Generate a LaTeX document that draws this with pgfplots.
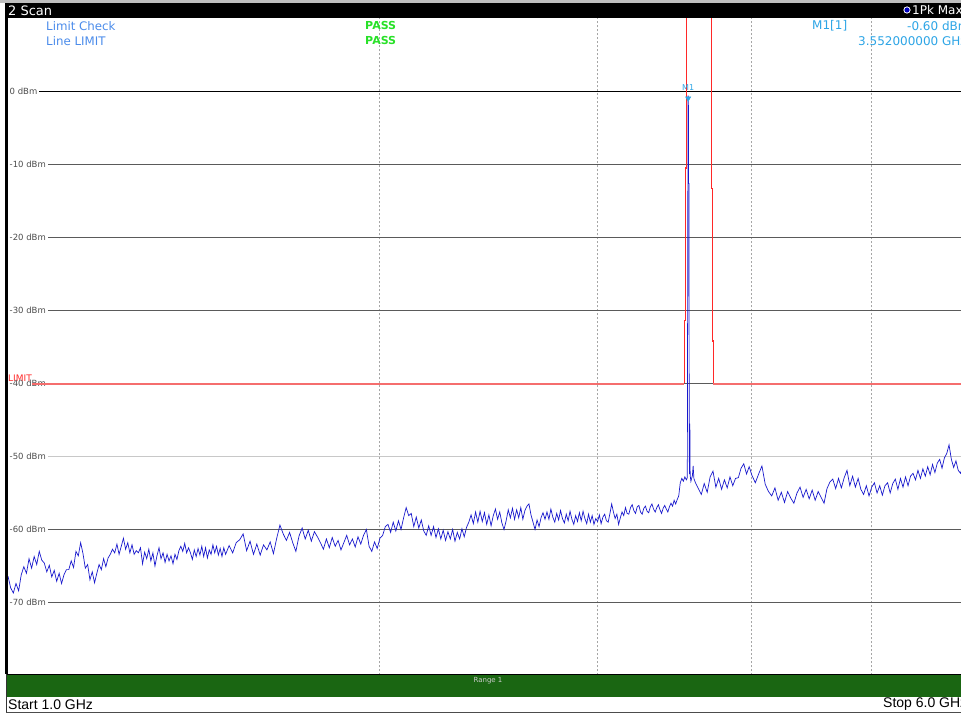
\documentclass[border=0pt]{standalone}
\usepackage{fontspec}
\setmainfont{DejaVu Sans}
\newfontfamily\narrowfont{Liberation Sans}
\usepackage{pgfplots}
\pgfplotsset{compat=1.18}
\definecolor{trace}{RGB}{25,25,205}
\definecolor{limred}{RGB}{255,40,40}
\definecolor{limsalmon}{RGB}{245,110,110}
\definecolor{scangreen}{RGB}{26,102,18}
\definecolor{infoblue}{RGB}{75,140,235}
\definecolor{mkblue}{RGB}{45,165,230}
\definecolor{passgreen}{RGB}{40,225,40}
\definecolor{gridgray}{RGB}{90,90,90}
\definecolor{gridlight}{RGB}{200,200,200}

\begin{document}
\begin{tikzpicture}
% window frame and title bar
\begin{scope}[x=1pt,y=1pt]
\fill[white] (0,0) rectangle (961,715);
\fill[black!25] (0,712) rectangle (961,715);
\fill[black] (5,697) rectangle (961,712);
\node[anchor=west, text=white, inner sep=0, font=\fontsize{13}{14}\selectfont] at (8,704.5) {2 Scan};
\fill[white] (907,705) circle (3.6);
\fill[blue!75!black] (907,705) circle (2.6);
\node[anchor=west, text=white, inner sep=0, font=\fontsize{12}{13}\selectfont] at (912,704.5) {1Pk Max};
\end{scope}

\begin{axis}[
    at={(8pt,39.5pt)}, anchor=south west,
    width=961.56pt, height=657pt, scale only axis,
    xmode=log, xmin=1, xmax=6,
    ymin=-80, ymax=10,
    axis line style={draw=none},
    major tick length=0pt,
    xtick={2,3,4,5}, xticklabels={},
    ytick={-70,-60,-50,-40,-30,-20,-10,0},
    yticklabels={-70 dBm,-60 dBm,-50 dBm,-40 dBm,-30 dBm,-20 dBm,-10 dBm,0 dBm},
    yticklabel style={anchor=west, font=\fontsize{8.5}{9}\selectfont, text=black!70,
        inner xsep=1.5pt, inner ysep=0.5pt},
    xmajorgrids,
    major x grid style={draw=black!35, dash pattern=on 2pt off 2pt, line width=1pt},
    clip=true,
]
% horizontal grid lines, starting after the level labels
\draw[draw=black, line width=1pt] (axis cs:1.06,0) -- (axis cs:6,0);
\draw[draw=gridgray, line width=1pt] (axis cs:1.078,-10) -- (axis cs:6,-10);
\draw[draw=gridgray, line width=1pt] (axis cs:1.078,-20) -- (axis cs:6,-20);
\draw[draw=gridgray, line width=1pt] (axis cs:1.078,-30) -- (axis cs:6,-30);
\draw[draw=gridgray, line width=1pt] (axis cs:1.078,-40) -- (axis cs:6,-40);
\draw[draw=gridlight, line width=1pt] (axis cs:1.078,-50) -- (axis cs:6,-50);
\draw[draw=gridgray, line width=1pt] (axis cs:1.078,-60) -- (axis cs:6,-60);
\draw[draw=gridgray, line width=1pt] (axis cs:1.078,-70) -- (axis cs:6,-70);

% limit line
\addplot[draw=limsalmon, line width=2pt, yshift=-0.5pt] coordinates {(1.046,-40) (3.5274,-40)};
\addplot[draw=limsalmon, line width=2pt, yshift=-0.5pt] coordinates {(3.7233,-40) (6,-40)};
\addplot[draw=limred, line width=1.4pt] coordinates {(3.5274,-40) (3.5274,-31.4) (3.5340,-31.4) (3.5340,-10.5) (3.5406,-10.5) (3.5406,10)};
\addplot[draw=limred, line width=1.4pt] coordinates {(3.7095,10) (3.7095,-13.3) (3.7164,-13.3) (3.7164,-34.2) (3.7233,-34.2) (3.7233,-40)};

% trace 1Pk Max
\addplot[draw=trace, line width=0.7pt] coordinates {
(1.000,-66.4) (1.005,-68.0) (1.010,-68.7) (1.015,-67.4) (1.020,-68.4) (1.025,-66.2) (1.030,-65.1) (1.035,-66.0)
(1.040,-64.0) (1.045,-65.3) (1.050,-63.7) (1.055,-64.8) (1.060,-63.0) (1.065,-64.2) (1.070,-64.6) (1.075,-65.8)
(1.080,-64.9) (1.085,-66.5) (1.090,-65.6) (1.095,-67.1) (1.100,-66.0) (1.105,-67.4) (1.110,-66.2) (1.115,-65.5)
(1.120,-65.5) (1.125,-64.3) (1.130,-65.2) (1.135,-63.0) (1.140,-63.6) (1.145,-61.8) (1.150,-63.3) (1.155,-65.3)
(1.160,-64.8) (1.165,-66.9) (1.170,-65.8) (1.175,-67.3) (1.180,-66.0) (1.185,-64.8) (1.190,-65.5) (1.195,-64.0)
(1.200,-65.1) (1.205,-63.9) (1.210,-63.4) (1.215,-62.7) (1.220,-63.2) (1.225,-62.0) (1.230,-63.4) (1.235,-62.3)
(1.240,-61.2) (1.245,-62.7) (1.250,-61.8) (1.255,-63.2) (1.260,-62.1) (1.265,-63.4) (1.270,-62.9) (1.275,-63.2)
(1.280,-62.5) (1.285,-64.7) (1.290,-63.1) (1.295,-64.0) (1.300,-62.7) (1.305,-64.3) (1.310,-63.2) (1.315,-65.0)
(1.320,-63.6) (1.325,-62.5) (1.330,-64.0) (1.335,-63.2) (1.340,-64.5) (1.345,-63.4) (1.350,-64.3) (1.355,-63.6)
(1.360,-64.7) (1.365,-63.4) (1.370,-64.1) (1.375,-62.9) (1.380,-62.3) (1.385,-63.0) (1.390,-61.9) (1.395,-63.2)
(1.400,-62.5) (1.405,-63.2) (1.410,-64.1) (1.415,-62.8) (1.420,-63.7) (1.425,-62.6) (1.430,-63.5) (1.435,-62.3)
(1.440,-63.7) (1.445,-62.5) (1.450,-63.9) (1.455,-62.8) (1.460,-63.4) (1.465,-62.1) (1.470,-63.2) (1.475,-62.3)
(1.480,-63.5) (1.485,-62.6) (1.490,-63.7) (1.495,-62.5)
(1.50,-63.4) (1.51,-62.2) (1.52,-63.2) (1.53,-61.8) (1.54,-61.4) (1.55,-60.6) (1.56,-62.9) (1.57,-61.6)
(1.58,-63.4) (1.59,-62.0) (1.60,-63.5) (1.61,-62.1) (1.62,-62.8) (1.63,-61.7) (1.64,-63.3) (1.65,-61.2)
(1.66,-59.4) (1.67,-60.6) (1.68,-61.5) (1.69,-60.4) (1.70,-61.8) (1.71,-63.0) (1.72,-60.9) (1.73,-59.8)
(1.74,-61.3) (1.75,-60.1) (1.76,-61.6) (1.77,-60.3) (1.78,-61.0) (1.79,-61.8) (1.80,-62.7) (1.81,-61.3)
(1.82,-62.5) (1.83,-61.1) (1.84,-62.3) (1.85,-61.5) (1.86,-62.8) (1.87,-61.8) (1.88,-60.8) (1.89,-62.1)
(1.90,-61.3) (1.91,-62.4) (1.92,-61.0) (1.93,-62.0) (1.94,-60.8) (1.95,-60.0) (1.96,-62.3) (1.97,-63.0)
(1.98,-61.7) (1.99,-62.6)
(2.00,-61.2) (2.01,-60.8) (2.02,-59.6) (2.03,-59.3) (2.04,-60.4) (2.05,-59.0) (2.06,-60.2) (2.07,-58.8)
(2.08,-60.0) (2.09,-58.4) (2.10,-57.0) (2.11,-58.1) (2.12,-57.8) (2.13,-59.6) (2.14,-58.3) (2.15,-59.8)
(2.16,-58.7) (2.17,-60.2) (2.18,-60.8) (2.19,-59.5) (2.20,-60.8) (2.21,-59.6) (2.22,-61.1) (2.23,-59.9)
(2.24,-61.3) (2.25,-60.1) (2.26,-61.5) (2.27,-60.3) (2.28,-61.3) (2.29,-60.0) (2.30,-61.6) (2.31,-60.4)
(2.32,-61.3) (2.33,-59.9) (2.34,-61.0) (2.35,-59.7) (2.36,-59.0) (2.37,-58.0) (2.38,-59.2) (2.39,-57.6)
(2.40,-59.0) (2.41,-57.5) (2.42,-58.9) (2.43,-57.7) (2.44,-59.3) (2.45,-58.0) (2.46,-59.5) (2.47,-58.1)
(2.48,-57.2) (2.49,-58.6) (2.50,-57.6) (2.51,-59.1) (2.52,-60.0) (2.53,-58.8) (2.54,-57.3) (2.55,-58.4)
(2.56,-57.1) (2.57,-58.6) (2.58,-57.3) (2.59,-58.4) (2.60,-57.0) (2.61,-58.6) (2.62,-57.4) (2.63,-56.8)
(2.64,-56.5) (2.65,-58.0) (2.66,-59.0) (2.67,-60.0) (2.68,-58.7) (2.69,-59.6) (2.70,-58.4) (2.71,-57.7)
(2.72,-58.6) (2.73,-57.6) (2.74,-58.6) (2.75,-57.2) (2.76,-58.3) (2.77,-59.0) (2.78,-57.8) (2.79,-58.7)
(2.80,-57.4) (2.81,-58.5) (2.82,-59.1) (2.83,-57.9) (2.84,-58.8) (2.85,-57.5) (2.86,-58.6) (2.87,-59.3)
(2.88,-58.1) (2.89,-58.9) (2.90,-57.7) (2.91,-58.8) (2.92,-57.5) (2.93,-58.5) (2.94,-59.2) (2.95,-57.9)
(2.96,-59.0) (2.97,-58.1) (2.98,-59.3) (2.99,-58.5)
(3.00,-58.9) (3.01,-58.0) (3.02,-59.2) (3.03,-58.3) (3.04,-57.9) (3.05,-58.8) (3.06,-59.0) (3.07,-57.8)
(3.08,-56.5) (3.09,-57.6) (3.10,-58.5) (3.11,-57.9) (3.12,-59.3) (3.13,-58.4) (3.14,-57.6) (3.15,-58.1)
(3.16,-57.0) (3.17,-57.8) (3.18,-57.9) (3.19,-57.0) (3.20,-56.6) (3.21,-57.4) (3.22,-57.8) (3.23,-56.9)
(3.24,-56.7) (3.25,-57.6) (3.26,-57.9) (3.27,-57.1) (3.28,-56.8) (3.29,-57.5) (3.30,-57.7) (3.31,-56.9)
(3.32,-56.5) (3.33,-57.2) (3.34,-57.6) (3.35,-57.0) (3.36,-56.6) (3.37,-57.3) (3.38,-57.8) (3.39,-57.1)
(3.40,-56.7) (3.41,-57.2) (3.42,-57.6) (3.43,-56.9) (3.44,-56.4) (3.45,-56.8) (3.46,-56.0) (3.47,-56.5)
(3.48,-55.9) (3.49,-55.4) (3.50,-53.6) (3.51,-53.0) (3.52,-53.4) (3.53,-52.8) (3.54,-53.2) (3.546,-52.9)
(3.549,-20.0) (3.551,-0.6) (3.553,-0.6) (3.555,-12.6) (3.557,-12.6) (3.559,-50.0) (3.561,-52.4) (3.563,-45.5)
(3.565,-52.6) (3.57,-53.4) (3.58,-52.6) (3.585,-51.3) (3.59,-53.0) (3.60,-53.6)
(3.62,-54.4) (3.64,-55.2) (3.66,-53.7) (3.68,-54.9) (3.70,-52.8) (3.72,-52.0) (3.74,-54.2) (3.76,-53.0)
(3.78,-54.5) (3.80,-53.2) (3.82,-54.3) (3.84,-52.8) (3.86,-54.0) (3.88,-53.0) (3.90,-52.9) (3.92,-51.6)
(3.94,-51.0) (3.96,-52.4) (3.98,-51.4)
(4.000,-52.6) (4.025,-53.6) (4.050,-52.4) (4.075,-51.3) (4.100,-53.8) (4.125,-54.8) (4.150,-55.4) (4.175,-54.3)
(4.200,-56.0) (4.225,-54.9) (4.250,-56.3) (4.275,-54.8) (4.300,-55.7) (4.325,-56.4) (4.350,-55.0) (4.375,-54.2)
(4.400,-55.6) (4.425,-54.5) (4.450,-55.8) (4.475,-54.6) (4.500,-56.0) (4.525,-54.8) (4.550,-55.6) (4.575,-56.4)
(4.600,-54.4) (4.625,-53.5) (4.650,-53.1) (4.675,-54.4) (4.700,-53.0) (4.725,-54.3) (4.750,-52.9) (4.775,-51.9)
(4.800,-54.0) (4.825,-52.7) (4.850,-54.2) (4.875,-53.0) (4.900,-54.5) (4.925,-55.2) (4.950,-54.0) (4.975,-55.4)
(5.000,-54.2) (5.025,-53.6) (5.050,-55.0) (5.075,-54.0) (5.100,-55.3) (5.125,-54.0) (5.150,-53.6) (5.175,-55.0)
(5.200,-53.7) (5.225,-53.1) (5.250,-54.5) (5.275,-53.0) (5.300,-54.2) (5.325,-52.8) (5.350,-54.0) (5.375,-52.7)
(5.400,-52.3) (5.425,-53.2) (5.450,-51.9) (5.475,-53.0) (5.500,-51.7) (5.525,-52.7) (5.550,-51.4) (5.575,-52.5)
(5.600,-51.1) (5.625,-52.2) (5.650,-50.9) (5.675,-50.4) (5.700,-51.6) (5.725,-50.2) (5.750,-49.6) (5.775,-48.4)
(5.800,-50.4) (5.825,-51.5) (5.850,-50.6) (5.875,-51.9) (5.900,-52.3) (5.925,-51.3) (5.950,-52.0) (5.975,-51.1)
(6.000,-51.6)
};

% marker M1
\addplot[draw=mkblue, fill=mkblue, only marks, mark=triangle*, mark size=3pt,
    mark options={rotate=180, yshift=2.5pt, draw=mkblue, fill=mkblue}] coordinates {(3.552,-0.6)}
    node[above=5pt, text=mkblue, inner sep=0, font=\fontsize{8}{9}\selectfont] {M1};
\end{axis}

\begin{scope}[x=1pt,y=1pt]
% left frame and bottom bars
\fill[fill=black] (5,41) rectangle (7.6,697);
\draw[draw=black!80, line width=0.8pt] (6,2.5) -- (6,41);
\fill[fill=scangreen] (7,18) rectangle (961,41);
\draw[draw=black, line width=1pt] (7,41) -- (961,41);
\node[text=black!20, inner sep=0, font=\fontsize{7}{8}\selectfont] at (488,34) {Range 1};
\draw[draw=black!70, line width=0.9pt] (6,2.5) -- (961,2.5);
\node[anchor=west, text=black, inner sep=0, font=\narrowfont\fontsize{14}{15}\selectfont] at (8,10.5) {Start 1.0 GHz};
\node[anchor=west, text=black, inner sep=0, font=\narrowfont\fontsize{14}{15}\selectfont] at (883,10.5) {Stop 6.0 GHz};

% limit check texts
\node[anchor=west, text=infoblue, inner sep=0, font=\fontsize{11.8}{13}\selectfont] at (46,689) {Limit Check};
\node[anchor=west, text=infoblue, inner sep=0, font=\fontsize{11.8}{13}\selectfont] at (46,674) {Line LIMIT};
\node[anchor=west, text=passgreen, inner sep=0, font=\bfseries\fontsize{11}{13}\selectfont] at (365,689) {PASS};
\node[anchor=west, text=passgreen, inner sep=0, font=\bfseries\fontsize{11}{13}\selectfont] at (365,674) {PASS};
\node[anchor=west, text=mkblue, inner sep=0, font=\fontsize{12}{13}\selectfont] at (812,689) {M1[1]};
\node[anchor=west, text=mkblue, inner sep=0, font=\fontsize{12}{13}\selectfont] at (907,689) {-0.60 dBm};
\node[anchor=west, text=mkblue, inner sep=0, font=\fontsize{12}{13}\selectfont] at (858,674) {3.552000000 GHz};
\node[anchor=base west, text=limred, inner sep=0, font=\fontsize{9}{10}\selectfont] at (8,333) {LIMIT};
\end{scope}

\pgfresetboundingbox
\useasboundingbox (0pt,0pt) rectangle (961pt,715pt);
\end{tikzpicture}
\end{document}
